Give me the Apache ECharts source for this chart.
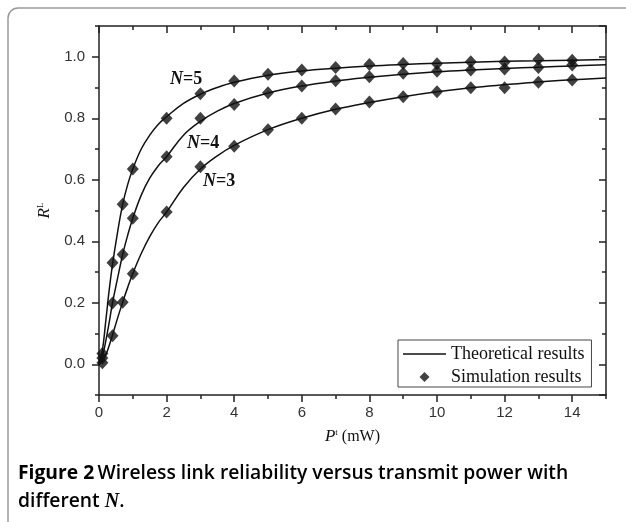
<!DOCTYPE html>
<html>
<head>
<meta charset="utf-8">
<script src="https://cdn.jsdelivr.net/npm/echarts@6/dist/echarts.min.js"></script>
<style>
  html, body { margin: 0; padding: 0; background: #fff; }
  #main { width: 626px; height: 522px; }
</style>
</head>
<body>
<div id="main"></div>
<script>
// theoretical curves
var powerX = [0, 0.1, 0.2, 0.3, 0.4, 0.55, 0.7, 0.85, 1, 1.25, 1.5, 1.75, 2, 2.5, 3, 3.5, 4, 5, 6, 7, 8, 9, 10, 11, 12, 13, 14, 15];
var theoryN5 = [0, 0.045, 0.14, 0.24, 0.325, 0.43, 0.52, 0.585, 0.635, 0.70, 0.745, 0.78, 0.805, 0.848, 0.878, 0.90, 0.917, 0.94, 0.954, 0.963, 0.970, 0.975, 0.979, 0.982, 0.985, 0.987, 0.989, 0.991];
var theoryN4 = [0, 0.025, 0.075, 0.135, 0.20, 0.28, 0.357, 0.42, 0.475, 0.55, 0.605, 0.645, 0.675, 0.745, 0.79, 0.823, 0.848, 0.882, 0.905, 0.921, 0.933, 0.943, 0.951, 0.957, 0.962, 0.966, 0.970, 0.974];
var theoryN3 = [0, 0.01, 0.03, 0.06, 0.095, 0.15, 0.202, 0.25, 0.295, 0.36, 0.415, 0.46, 0.495, 0.575, 0.635, 0.678, 0.712, 0.763, 0.80, 0.829, 0.851, 0.87, 0.886, 0.899, 0.909, 0.918, 0.925, 0.931];

// simulation points
var simX = [0.1, 0.4, 0.7, 1, 2, 3, 4, 5, 6, 7, 8, 9, 10, 11, 12, 13, 14];
var simN5 = [0.035, 0.33, 0.52, 0.635, 0.80, 0.88, 0.921, 0.943, 0.957, 0.965, 0.975, 0.978, 0.977, 0.984, 0.983, 0.992, 0.989];
var simN4 = [0.02, 0.199, 0.357, 0.475, 0.675, 0.80, 0.845, 0.883, 0.905, 0.922, 0.935, 0.946, 0.953, 0.957, 0.96, 0.965, 0.973];
var simN3 = [0.005, 0.093, 0.202, 0.294, 0.495, 0.642, 0.709, 0.763, 0.80, 0.83, 0.853, 0.87, 0.886, 0.899, 0.899, 0.917, 0.924];

var curveNames = ["N=5", "N=4", "N=3"];
var curveLabelAt = [[2.1, 0.925], [2.6, 0.718], [3.08, 0.594]];

var axisColor = "#222";
var inkColor = "#111";

function pairs(xs, ys) {
  return xs.map(function (x, i) { return [x, ys[i]]; });
}

var labelRich = {
  n: { fontFamily: "Liberation Serif", fontSize: 18, fontStyle: "italic", fontWeight: "bold", color: inkColor },
  e: { fontFamily: "Liberation Serif", fontSize: 18, fontWeight: "bold", color: inkColor }
};

function theoryLine(ys, idx) {
  var parts = curveNames[idx].split("=");
  return {
    name: "Theoretical results",
    type: "line",
    data: pairs(powerX, ys),
    smooth: 0.4,
    symbol: "none",
    showSymbol: false,
    lineStyle: { color: inkColor, width: 1.5 },
    itemStyle: { color: inkColor },
    z: 2,
    markPoint: {
      silent: true,
      symbol: "circle",
      symbolSize: 0,
      label: {
        show: true,
        position: "right",
        distance: 0,
        formatter: "{n|" + parts[0] + "}{e|=" + parts[1] + "}",
        rich: labelRich
      },
      data: [{ coord: curveLabelAt[idx] }]
    }
  };
}

function simPoints(ys) {
  return {
    name: "Simulation results",
    type: "scatter",
    data: pairs(simX, ys),
    symbol: "diamond",
    symbolSize: [12, 13],
    itemStyle: { color: inkColor },
    z: 3
  };
}

var tickStyle = { color: axisColor, width: 1.5 };

var myChart = echarts.init(document.getElementById("main"));
var option = {
  backgroundColor: "#fff",
  animation: false,
  grid: { left: 99, top: 26, right: 20, bottom: 127 },
  legend: {
    orient: "vertical",
    left: 398,
    top: 340,
    itemWidth: 43,
    itemHeight: 10,
    itemGap: 5,
    padding: [5, 7, 1, 5],
    borderColor: "#444",
    borderWidth: 1,
    backgroundColor: "#fff",
    selectedMode: false,
    textStyle: { fontFamily: "Liberation Serif", fontSize: 18, color: inkColor },
    data: [
      { name: "Theoretical results", icon: "path://M0,0L43,0L43,1.6L0,1.6Z" },
      { name: "Simulation results", icon: "path://M0,-5L5,0L0,5L-5,0Z" }
    ]
  },
  xAxis: [
    {
      type: "value", position: "bottom", min: 0, max: 15, interval: 2,
      axisLine: { show: true, onZero: false, lineStyle: tickStyle },
      axisTick: { show: true, inside: false, length: 7, lineStyle: tickStyle },
      axisLabel: { margin: 10, fontFamily: "Liberation Sans", fontSize: 15, color: "#333", showMaxLabel: false },
      splitLine: { show: false },
      name: "{p|P}{s|t}{u| (mW)}",
      nameLocation: "middle",
      nameGap: 33,
      nameTextStyle: {
        rich: {
          p: { fontFamily: "Liberation Serif", fontSize: 17, fontStyle: "italic", color: inkColor },
          s: { fontFamily: "Liberation Serif", fontSize: 9, color: inkColor, verticalAlign: "top", padding: [0, 0, 8, 0] },
          u: { fontFamily: "Liberation Serif", fontSize: 16, color: inkColor }
        }
      }
    },
    {
      type: "value", position: "bottom", min: 0, max: 15, interval: 1,
      axisLine: { show: false, onZero: false },
      axisTick: { show: true, inside: false, length: 4, lineStyle: tickStyle },
      axisLabel: { show: false }, splitLine: { show: false }
    },
    {
      type: "value", position: "top", min: 0, max: 15, interval: 2,
      axisLine: { show: true, onZero: false, lineStyle: tickStyle },
      axisTick: { show: true, inside: true, length: 7, lineStyle: tickStyle },
      axisLabel: { show: false }, splitLine: { show: false }
    },
    {
      type: "value", position: "top", min: 0, max: 15, interval: 1,
      axisLine: { show: false, onZero: false },
      axisTick: { show: true, inside: true, length: 4, lineStyle: tickStyle },
      axisLabel: { show: false }, splitLine: { show: false }
    }
  ],
  yAxis: [
    {
      type: "value", position: "left", min: -0.1, max: 1.1, splitNumber: 6,
      axisLine: { show: true, onZero: false, lineStyle: tickStyle },
      axisTick: { show: true, inside: false, length: 7, lineStyle: tickStyle },
      axisLabel: {
        margin: 14, fontFamily: "Liberation Sans", fontSize: 15, color: "#333",
        showMinLabel: false, showMaxLabel: false,
        formatter: function (v) { return v.toFixed(1); }
      },
      splitLine: { show: false },
      name: "{r|R}{s|L}",
      nameLocation: "middle",
      nameGap: 44,
      nameTextStyle: {
        rich: {
          r: { fontFamily: "Liberation Serif", fontSize: 17, fontStyle: "italic", color: inkColor },
          s: { fontFamily: "Liberation Serif", fontSize: 9, color: inkColor, verticalAlign: "top", padding: [0, 0, 8, 0] }
        }
      }
    },
    {
      type: "value", position: "left", min: -0.1, max: 1.1, interval: 0.2,
      axisLine: { show: false, onZero: false },
      axisTick: { show: true, inside: false, length: 4, lineStyle: tickStyle },
      axisLabel: { show: false }, splitLine: { show: false }
    },
    {
      type: "value", position: "right", min: -0.1, max: 1.1, splitNumber: 6,
      axisLine: { show: true, onZero: false, lineStyle: tickStyle },
      axisTick: { show: true, inside: true, length: 7, lineStyle: tickStyle },
      axisLabel: { show: false }, splitLine: { show: false }
    },
    {
      type: "value", position: "right", min: -0.1, max: 1.1, interval: 0.2,
      axisLine: { show: false, onZero: false },
      axisTick: { show: true, inside: true, length: 4, lineStyle: tickStyle },
      axisLabel: { show: false }, splitLine: { show: false }
    }
  ],
  graphic: [
    {
      type: "rect",
      shape: { x: 8, y: 8, width: 700, height: 600, r: 10 },
      style: { fill: "none", stroke: "#9a9a9a", lineWidth: 1.5 },
      silent: true
    },
    {
      type: "text",
      left: 18,
      top: 464,
      style: {
        text: "{b|Figure 2} {m|Wireless link reliability versus transmit power with}\n{m|different }{n|N}{m|.}",
        rich: {
          b: { fontFamily: "Open Sans", fontSize: 19.3, fontWeight: "bold", color: "#1a1a1a", lineHeight: 28 },
          m: { fontFamily: "Open Sans", fontSize: 19.3, fontWeight: 600, color: "#1a1a1a", lineHeight: 28 },
          n: { fontFamily: "Liberation Serif", fontSize: 20, fontStyle: "italic", fontWeight: "bold", color: "#1a1a1a", lineHeight: 28 }
        }
      }
    }
  ],
  series: [
    theoryLine(theoryN5, 0),
    theoryLine(theoryN4, 1),
    theoryLine(theoryN3, 2),
    simPoints(simN5),
    simPoints(simN4),
    simPoints(simN3)
  ]
};
myChart.setOption(option);
</script>
</body>
</html>
